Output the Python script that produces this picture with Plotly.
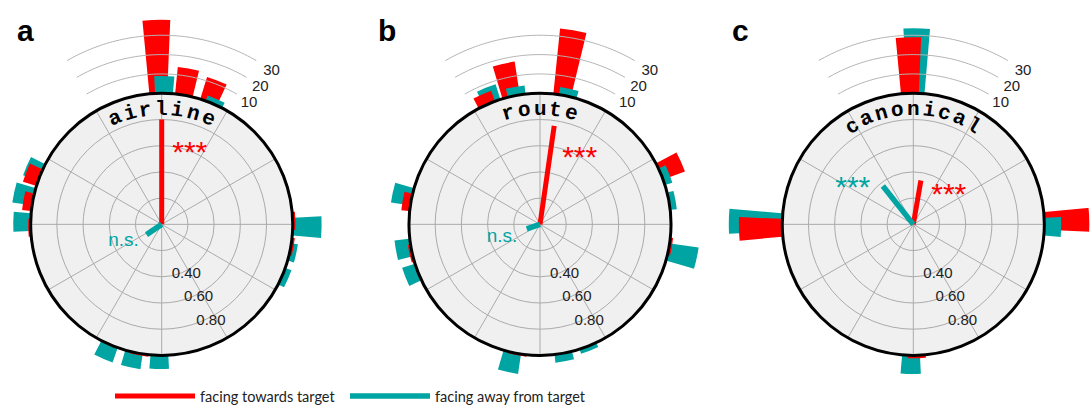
import numpy as np
import pandas as pd
import plotly.graph_objects as go

# ---------------- data ----------------
panel_letters = ["a", "b", "c"]
panel_titles = ["airline", "route", "canonical"]

# circular histograms: bin angle (deg, clockwise from north) and counts
a_red_theta = [0, 11.25, 22.5, 90, 101.25, 191.25, 270, 281.25, 292.5]
a_red_count = [38, 14, 12, 1, 1, 1, 1, 4.5, 7]
a_teal_theta = [0, 22.5, 90, 101.25, 112.5, 180, 191.25, 202.5, 270, 281.25, 292.5]
a_teal_count = [9, 3, 14.5, 3, 3, 7, 8, 8, 8.7, 10, 8]

b_red_theta = [11.25, 348.75, 337.5, 67.5, 101.25, 281.25, 258.75, 191.25]
b_red_count = [34, 17.4, 5.8, 11.6, 1, 3.9, 1, 1]
b_teal_theta = [11.25, 348.75, 337.5, 67.5, 78.75, 101.25, 281.25, 258.75, 247.5, 191.25, 168.75, 157.5]
b_teal_count = [4, 4.5, 8.2, 3.6, 3, 14.7, 9.7, 7.5, 6.6, 10.4, 4.2, 2.5]

c_red_theta = [0, 270, 90, 180]
c_red_count = [29, 22, 25, 1.5]
c_teal_theta = [0, 270, 90, 180]
c_teal_count = [33.6, 27.2, 8.4, 9.6]

# mean resultant vectors (length, angle)
red_vec_len = [0.80, 0.76, 0.34]
red_vec_ang = [0, 8.2, 9.8]
teal_vec_len = [0.14, 0.107, 0.374]
teal_vec_ang = [236, 251, 321.6]

# significance labels: text and pixel offset of label centre from circle centre
red_sig = [("***", 28.3, -79.3), ("***", 40.0, -74.3), ("***", 35.7, -36.7)]
teal_sig = [("n.s.", -38.4, 11.3), ("n.s.", -38.3, 7.3), ("***", -61.0, -44.3)]

inner_ticks = [0.4, 0.6, 0.8]
inner_tick_text = ["0.40", "0.60", "0.80"]
count_ticks = [10, 20, 30]
count_tick_text = ["10", "20", "30"]

legend_names = ["facing towards target", "facing away from target"]

# ---------------- style ----------------
RED = "#ff0000"
TEAL = "#00a5a3"
W, H = 1090, 412
CX = [161.7, 540.0, 913.3]
CY = 226.0
RPX = 132.0
COUNT_SCALE = 1.95 / RPX       # radial units per count
BAR_W = 7.8
RED_OFF, TEAL_OFF = -1.5, 1.0
GRID = "#ababab"
TICK_DY = 4.0      # compensation for text vertical anchoring
COUNT_DY = 1.0
NS_DY = 6.0
STAR_DY = 9.0


def pix_to_polar(dx, dy):
    r = np.hypot(dx, dy) / RPX
    th = np.degrees(np.arctan2(dx, -dy)) % 360
    return r, th


def sector_bbox(s0, s1):
    angs = np.radians(np.linspace(s0, s1, 721))
    xs = np.concatenate([[0], np.cos(angs)])
    ys = np.concatenate([[0], np.sin(angs)])
    return xs.min(), xs.max(), ys.min(), ys.max()


SECTORS = {  # math angles (ccw from east)
    "top": (50, 130),
    "right": (-50, 50),
    "bottom": (230, 310),
    "left": (130, 230),
}


def sector_of(compass):
    m = (90 - compass) % 360
    if 50 <= m < 130:
        return "top"
    if 130 <= m < 230:
        return "left"
    if 230 <= m < 310:
        return "bottom"
    return "right"


hist = [
    (a_red_theta, a_red_count, a_teal_theta, a_teal_count),
    (b_red_theta, b_red_count, b_teal_theta, b_teal_count),
    (c_red_theta, c_red_count, c_teal_theta, c_teal_count),
]

fig = go.Figure()
annotations = []
layout_polars = {}
pcount = [0]


def new_pid():
    pcount[0] += 1
    return "polar" if pcount[0] == 1 else f"polar{pcount[0]}"


for i in range(3):
    cx = CX[i]
    # ---------- outer sector subplots for histogram bars ----------
    rt, rc, tt, tc = hist[i]
    df = pd.concat([
        pd.DataFrame({"theta": np.array(rt, float) + RED_OFF, "count": rc, "color": RED}),
        pd.DataFrame({"theta": np.array(tt, float) + TEAL_OFF, "count": tc, "color": TEAL}),
    ]).sort_values("count", ascending=False)
    df["sector"] = [sector_of(t) for t in df["theta"]]

    for name, (s0, s1) in SECTORS.items():
        bx0, bx1, by0, by1 = sector_bbox(s0, s1)
        limits = []
        if bx0 < 0:
            limits.append((cx - 0.01) / -bx0)
        if bx1 > 0:
            limits.append((W - cx - 0.01) / bx1)
        if by1 > 0:
            limits.append((CY - 0.01) / by1)
        if by0 < 0:
            limits.append((H - CY - 0.01) / -by0)
        rsec = min([225.0] + limits)
        pid = new_pid()
        layout_polars[pid] = dict(
            domain=dict(x=[(cx + bx0 * rsec) / W, (cx + bx1 * rsec) / W],
                        y=[1 - (CY - by0 * rsec) / H, 1 - (CY - by1 * rsec) / H]),
            sector=[s0, s1], bgcolor="rgba(0,0,0,0)",
            angularaxis=dict(rotation=90, direction="clockwise", visible=False),
            radialaxis=dict(range=[0, rsec / RPX], visible=False),
        )
        sub = df[df["sector"] == name]
        if len(sub):
            fig.add_trace(go.Barpolar(
                r=sub["count"] * COUNT_SCALE, theta=sub["theta"], base=1.0, width=BAR_W,
                marker=dict(color=list(sub["color"]), line=dict(width=0)),
                showlegend=False, subplot=pid, hoverinfo="skip"))
        if name == "top":
            arc_theta = np.linspace(-30, 30, 61)
            for c in count_ticks:
                fig.add_trace(go.Scatterpolar(
                    r=np.full_like(arc_theta, 1 + c * COUNT_SCALE), theta=arc_theta,
                    mode="lines", line=dict(color="#b4b4b4", width=1),
                    showlegend=False, subplot=pid, hoverinfo="skip"))
            lab = [pix_to_polar(np.sin(np.radians(35.5)) * (RPX + c * 1.95),
                                -np.cos(np.radians(35.5)) * (RPX + c * 1.95) + COUNT_DY)
                   for c in count_ticks]
            fig.add_trace(go.Scatterpolar(
                r=[p[0] for p in lab], theta=[p[1] for p in lab], mode="text",
                text=count_tick_text,
                textfont=dict(family="Liberation Sans", size=15, color="#222"),
                showlegend=False, subplot=pid, cliponaxis=False, hoverinfo="skip"))

    # ---------- inner circle subplot ----------
    pid = new_pid()
    layout_polars[pid] = dict(
        domain=dict(x=[(cx - RPX) / W, (cx + RPX) / W],
                    y=[1 - (CY + RPX) / H, 1 - (CY - RPX) / H]),
        bgcolor="#f0f0f0",
        angularaxis=dict(rotation=90, direction="clockwise", dtick=30,
                         showticklabels=False, ticks="", gridcolor=GRID,
                         gridwidth=1, showline=True, linecolor="black", linewidth=3),
        radialaxis=dict(range=[0, 1], tickvals=[0.2, 0.4, 0.6, 0.8],
                        showticklabels=False, ticks="", gridcolor=GRID,
                        gridwidth=1, showline=False),
    )
    # inner tick labels
    tl = [pix_to_polar(np.sin(np.radians(152)) * v * RPX,
                       -np.cos(np.radians(152)) * v * RPX + TICK_DY) for v in inner_ticks]
    fig.add_trace(go.Scatterpolar(
        r=[p[0] for p in tl], theta=[p[1] for p in tl], mode="text", text=inner_tick_text,
        textfont=dict(family="Liberation Sans", size=15, color="#222"),
        showlegend=False, subplot=pid, cliponaxis=False, hoverinfo="skip"))

    # mean vectors
    fig.add_trace(go.Scatterpolar(
        r=[0, red_vec_len[i]], theta=[red_vec_ang[i]] * 2, mode="lines",
        line=dict(color=RED, width=5), name=legend_names[0], legendwidth=140,
        showlegend=(i == 0), subplot=pid, hoverinfo="skip"))
    fig.add_trace(go.Scatterpolar(
        r=[0, teal_vec_len[i]], theta=[teal_vec_ang[i]] * 2, mode="lines",
        line=dict(color=TEAL, width=5.5), name=legend_names[1], legendwidth=170,
        showlegend=(i == 0), subplot=pid, hoverinfo="skip"))

    # significance text
    for (txt, dx, dy), col in ((red_sig[i], RED), (teal_sig[i], TEAL)):
        star = txt == "***"
        rr, th = pix_to_polar(dx, dy + (STAR_DY if star else NS_DY))
        fig.add_trace(go.Scatterpolar(
            r=[rr], theta=[th], mode="text", text=[txt],
            textfont=dict(family="Liberation Sans", size=30 if star else 19, color=col),
            showlegend=False, subplot=pid, cliponaxis=False, hoverinfo="skip"))

    # curved title letters
    title = panel_titles[i]
    n = len(title)
    r_title = 116.0
    step = 7.85
    for j, ch in enumerate(title):
        ang = (j - (n - 1) / 2) * step
        px = cx + r_title * np.sin(np.radians(ang))
        py = CY - r_title * np.cos(np.radians(ang))
        annotations.append(dict(
            x=px / W, y=1 - py / H, xref="paper", yref="paper", text=f"<b>{ch}</b>",
            showarrow=False, textangle=ang, xanchor="center", yanchor="middle",
            font=dict(family="Liberation Mono", size=21, color="black")))

    # panel letter
    annotations.append(dict(
        x=[25, 386.7, 740][i] / W, y=1 - 31 / H, xref="paper", yref="paper",
        text=f"<b>{panel_letters[i]}</b>", showarrow=False, xanchor="center", yanchor="middle",
        font=dict(family="Liberation Sans", size=30, color="black")))

fig.update_layout(**layout_polars)
fig.update_layout(
    width=W, height=H, margin=dict(l=0, r=0, t=0, b=0),
    paper_bgcolor="white", plot_bgcolor="white",
    annotations=annotations,
    showlegend=True,
    legend=dict(orientation="h", x=110 / W, y=1 - 399 / H, xanchor="left", yanchor="middle",
                itemwidth=80, bgcolor="rgba(0,0,0,0)",
                font=dict(family="Lato, sans-serif", size=14.5, color="#222")),
)

fig.write_html("out.html")
